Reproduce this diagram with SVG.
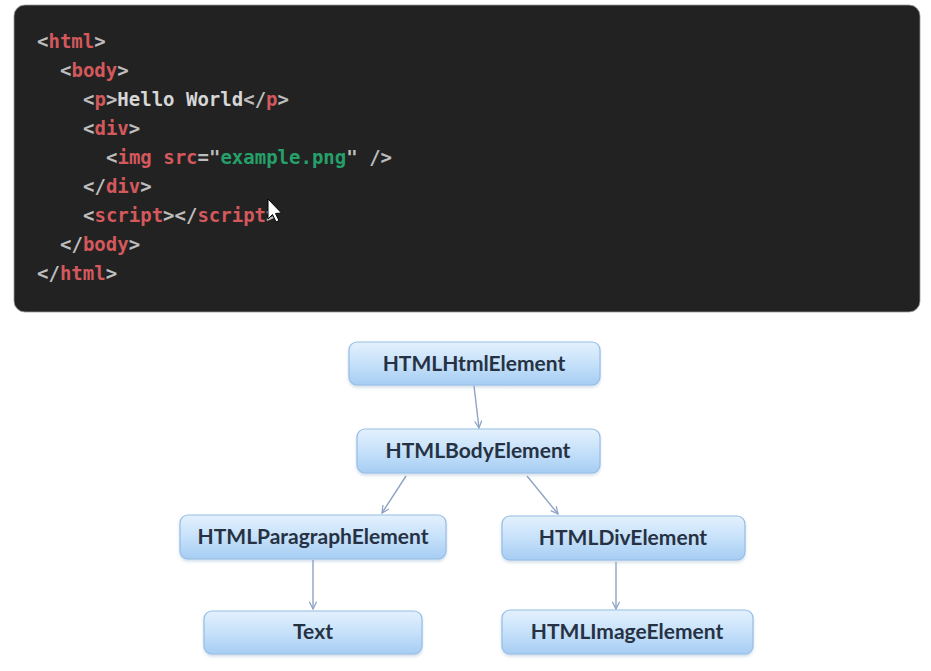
<svg xmlns="http://www.w3.org/2000/svg" width="931" height="671" viewBox="0 0 931 671">
<defs>
<linearGradient id="nodeFill" x1="0" y1="0" x2="0" y2="1">
<stop offset="0" stop-color="#e4f1fd"/>
<stop offset="0.5" stop-color="#c6e1fa"/>
<stop offset="1" stop-color="#a6cdf3"/>
</linearGradient>
<filter id="shadow" x="-10%" y="-20%" width="120%" height="150%">
<feDropShadow dx="0" dy="2" stdDeviation="1.5" flood-color="#7a9cc0" flood-opacity="0.35"/>
</filter>
<marker id="arrow" viewBox="0 0 10 10" refX="9" refY="5" markerWidth="9" markerHeight="9" markerUnits="userSpaceOnUse" orient="auto">
<path d="M1,1 L9,5 L1,9" fill="none" stroke="#8ea3c4" stroke-width="1.4"/>
</marker>
</defs>
<style>
.code{font-family:"DejaVu Sans Mono","Liberation Mono",monospace;font-size:19px;font-weight:bold;}
.p{fill:#bdbdbd;}
.t{fill:#d4585c;}
.w{fill:#d6d6d6;}
.s{fill:#25a06a;}
.node rect{fill:url(#nodeFill);stroke:#97bde6;stroke-width:1.2;filter:url(#shadow);}
.node text{font-family:Lato,"Liberation Sans",sans-serif;font-size:21px;font-weight:bold;fill:#263243;text-anchor:middle;}
.conn line{stroke:#8ea3c4;stroke-width:1.4;marker-end:url(#arrow);}
</style>
<rect width="931" height="671" fill="#ffffff"/>
<g id="code-block">
<rect x="14" y="5" width="906" height="307" rx="11" fill="#222222" stroke="#9a9a9a" stroke-width="0.8"/>
<g class="code" xml:space="preserve">
<text x="37" y="48"><tspan class="p">&lt;</tspan><tspan class="t">html</tspan><tspan class="p">&gt;</tspan></text>
<text x="60" y="77"><tspan class="p">&lt;</tspan><tspan class="t">body</tspan><tspan class="p">&gt;</tspan></text>
<text x="83" y="106"><tspan class="p">&lt;</tspan><tspan class="t">p</tspan><tspan class="p">&gt;</tspan><tspan class="w">Hello World</tspan><tspan class="p">&lt;/</tspan><tspan class="t">p</tspan><tspan class="p">&gt;</tspan></text>
<text x="83" y="135"><tspan class="p">&lt;</tspan><tspan class="t">div</tspan><tspan class="p">&gt;</tspan></text>
<text x="106" y="164"><tspan class="p">&lt;</tspan><tspan class="t">img src</tspan><tspan class="p">="</tspan><tspan class="s">example.png</tspan><tspan class="p">" /&gt;</tspan></text>
<text x="83" y="193"><tspan class="p">&lt;/</tspan><tspan class="t">div</tspan><tspan class="p">&gt;</tspan></text>
<text x="83" y="222"><tspan class="p">&lt;</tspan><tspan class="t">script</tspan><tspan class="p">&gt;&lt;/</tspan><tspan class="t">script</tspan><tspan class="p">&gt;</tspan></text>
<text x="60" y="251"><tspan class="p">&lt;/</tspan><tspan class="t">body</tspan><tspan class="p">&gt;</tspan></text>
<text x="37" y="280"><tspan class="p">&lt;/</tspan><tspan class="t">html</tspan><tspan class="p">&gt;</tspan></text>
</g>
<path d="M268,199 L268,219 L272.5,214.5 L276,222 L279,220.5 L275.5,213.5 L281.5,213 Z" fill="#ffffff" stroke="#000000" stroke-width="1"/>
</g>
<g class="conn" id="connectors">
<line x1="474" y1="386" x2="479" y2="428"/>
<line x1="406" y1="476" x2="382" y2="513"/>
<line x1="527" y1="476" x2="558" y2="514"/>
<line x1="313" y1="560" x2="313" y2="609"/>
<line x1="616" y1="562" x2="616" y2="609"/>
</g>
<g class="node" id="n-html"><rect x="349" y="342" width="251" height="43" rx="8"/><text x="474" y="371">HTMLHtmlElement</text></g>
<g class="node" id="n-body"><rect x="357" y="429" width="243" height="44" rx="8"/><text x="478" y="458">HTMLBodyElement</text></g>
<g class="node" id="n-p"><rect x="180" y="515" width="266" height="44" rx="8"/><text x="313" y="544">HTMLParagraphElement</text></g>
<g class="node" id="n-div"><rect x="502" y="516" width="243" height="44" rx="8"/><text x="623" y="545">HTMLDivElement</text></g>
<g class="node" id="n-text"><rect x="204" y="611" width="218" height="43" rx="8"/><text x="313" y="639">Text</text></g>
<g class="node" id="n-img"><rect x="502" y="610" width="251" height="44" rx="8"/><text x="627" y="639">HTMLImageElement</text></g>
</svg>
